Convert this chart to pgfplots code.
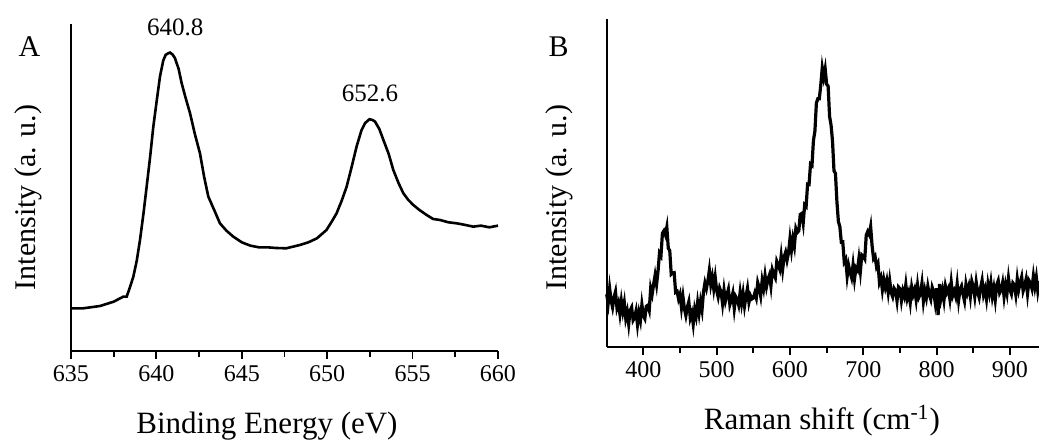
\documentclass[border=0pt]{standalone}
\usepackage{pgfplots}
\pgfplotsset{compat=1.18}
\usepackage{fontspec}
\setmainfont{Liberation Serif}

% y values are heights above the x axis
\pgfplotstableread{
x y
635 127
635.7 127
636.7 134
637.5 147
638.06 162
638.26 162
638.45 190
638.65 222
638.85 270
639.04 332
639.24 410
639.43 492
639.63 580
639.82 672
640.02 750
640.21 822
640.4 870
640.54 887
640.7 892
640.8 894
640.95 888
641.09 877
641.3 845
641.48 802
641.7 760
641.97 712
642.25 650
642.55 592
642.8 520
643.04 462
643.4 420
643.72 382
644.1 360
644.5 342
645.0 325
645.5 315
646.0 310
646.5 310
647.0 308
647.6 307
648.0 312
648.4 317
648.9 325
649.4 337
649.96 362
650.3 390
650.55 412
650.85 450
651.14 492
651.45 555
651.72 612
652.0 660
652.21 682
652.47 694
652.65 692
652.8 687
653.05 665
653.29 632
653.6 590
653.87 542
654.2 500
654.46 472
654.75 452
655.04 437
655.4 422
655.82 407
656.2 395
656.6 392
657.1 385
657.58 382
658.0 378
658.55 372
659.0 375
659.5 370
660 375
}\xps

\pgfplotstableread{
x y
350 157
352 130
354 175
356 139
358 118
360 148
362 165
364 116
366 131
368 98
370 137
372 106
374 132
376 85
378 105
380 68
382 109
384 118
386 79
388 87
390 107
392 66
394 101
396 79
398 126
400 93
402 84
404 121
406 124
408 109
410 175
412 157
414 187
416 214
418 186
420 226
422 280
424 272
426 340
428 347
430 335
432 358
434 295
436 288
438 217
440 221
442 222
444 163
446 166
448 143
450 157
452 117
454 150
456 114
458 93
460 118
462 135
464 86
466 101
468 68
470 112
472 91
474 132
476 100
478 135
480 110
482 164
484 191
486 174
488 197
490 229
492 186
494 209
496 174
498 208
500 168
502 149
504 176
506 164
508 129
510 170
512 137
514 155
516 172
518 126
520 141
522 160
524 114
526 150
528 142
530 125
532 163
534 130
536 160
538 122
540 151
542 175
544 133
546 153
548 143
550 146
552 161
554 146
556 192
558 176
560 152
562 198
564 175
566 213
568 180
570 202
572 215
574 182
576 230
578 216
580 206
582 256
584 245
586 232
588 272
590 232
592 269
594 283
596 259
598 281
600 324
602 289
604 324
606 301
608 354
610 342
612 347
614 396
616 399
618 370
620 425
622 420
624 487
626 486
628 547
630 543
632 618
634 646
636 730
638 743
640 743
642 784
644 835
646 807
648 832
650 786
652 781
654 690
656 664
658 616
660 527
662 519
664 435
666 375
668 360
670 313
672 314
674 254
676 262
678 211
680 243
682 223
684 207
686 245
688 203
690 236
692 229
694 264
696 226
698 275
700 271
702 263
704 334
706 345
708 336
710 360
712 302
714 264
716 271
718 240
720 250
722 193
724 206
726 170
728 201
730 178
732 198
734 163
736 198
738 163
740 150
742 175
744 168
746 137
748 179
750 174
752 138
754 167
756 151
758 186
760 145
762 162
764 132
766 179
768 156
770 171
772 141
774 184
776 149
778 159
780 190
782 136
784 168
786 147
788 181
790 156
792 142
794 178
796 165
798 133
800 175
802 95
804 188
806 146
808 169
810 139
812 182
814 163
816 174
818 144
820 192
822 153
824 166
826 150
828 188
830 139
832 172
834 182
836 157
838 137
840 187
842 163
844 181
846 150
848 196
850 180
852 150
854 193
856 163
858 147
860 177
862 199
864 156
866 173
868 143
870 187
872 161
874 192
876 151
878 176
880 141
882 186
884 198
886 161
888 170
890 192
892 150
894 184
896 160
898 205
900 171
902 158
904 191
906 185
908 156
910 203
912 171
914 192
916 209
918 167
920 182
922 202
924 159
926 198
928 190
930 174
932 212
934 180
936 208
938 167
940 196
}\raman

\pgfplotsset{
  panel/.style={
    scale only axis,
    anchor=south west,
    axis x line=bottom,
    axis y line=left,
    axis line style={-, line width=1pt},
    every tick/.style={black, line width=0.9pt},
    tick align=outside,
    major tick length=4pt,
    minor tick length=3pt,
    minor x tick num=1,
    ytick=\empty,
    ymin=0,
    clip=false,
    xticklabel style={font=\fontsize{12}{14}\selectfont},
    /pgf/number format/assume math mode=true,
    /pgf/number format/1000 sep={},
  },
}

\begin{document}
\begin{tikzpicture}
\useasboundingbox (0,0) rectangle (519.5pt,221pt);

\begin{axis}[panel,
  at={(35.5pt,45.65pt)},
  width=213.5pt, height=163.4pt,
  xmin=635, xmax=660, ymax=980,
  xtick={635,640,...,660},
]
\addplot[black, line width=1.3pt] table[x=x, y=y] {\xps};
\node[font=\fontsize{12.5}{14}\selectfont, anchor=base] at (axis cs:641.1,944) {640.8};
\node[font=\fontsize{12.5}{14}\selectfont, anchor=base] at (axis cs:652.5,747) {652.6};
\node[font=\fontsize{15}{17}\selectfont, anchor=base west, inner sep=0pt] at (axis description cs:-0.1234,0.900) {A};
\node[font=\fontsize{15}{17}\selectfont, anchor=base, rotate=90] at (axis description cs:-0.0843,0.469) {Intensity (a. u.)};
\node[font=\fontsize{15.5}{18}\selectfont, anchor=base] at (axis description cs:0.459,-0.252) {Binding Energy (eV)};
\end{axis}

\begin{axis}[panel,
  at={(303.35pt,47.65pt)},
  width=216.5pt, height=163.9pt,
  xmin=350, xmax=940.6, ymax=982,
  xtick={400,500,...,900},
]
\addplot[black, line width=1.6pt] table[x=x, y=y] {\raman};
\node[font=\fontsize{15}{17}\selectfont, anchor=base west, inner sep=0pt] at (axis description cs:-0.1349,0.885) {B};
\node[font=\fontsize{15}{17}\selectfont, anchor=base, rotate=90] at (axis description cs:-0.0924,0.455) {Intensity (a. u.)};
\node[font=\fontsize{15.5}{18}\selectfont, anchor=base] at (axis description cs:0.497,-0.254) {Raman shift (cm\textsuperscript{-1})};
\end{axis}
\end{tikzpicture}
\end{document}
